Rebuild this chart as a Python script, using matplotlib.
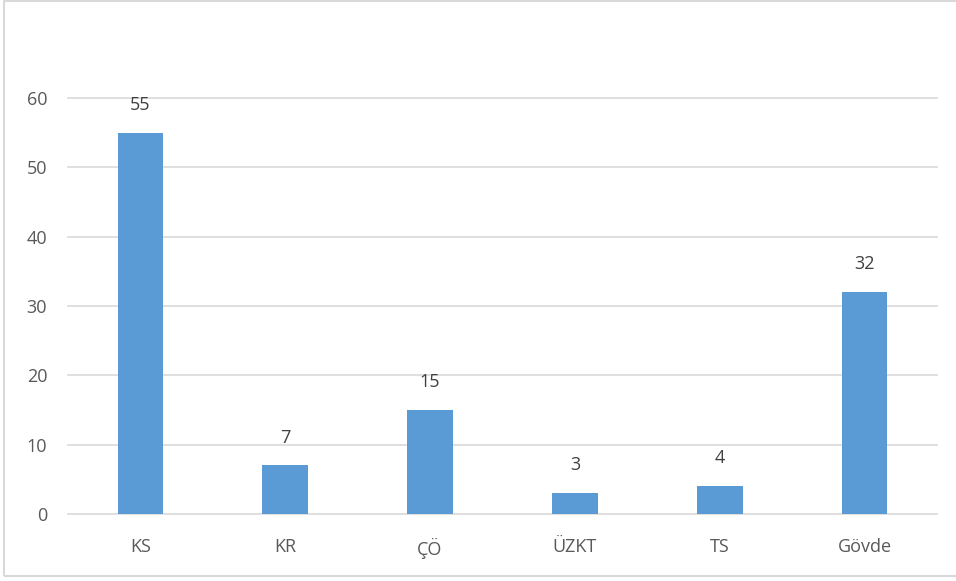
import matplotlib
matplotlib.use("Agg")
import matplotlib.pyplot as plt
from matplotlib.patches import Rectangle

plt.rcParams["font.family"] = ["Open Sans", "DejaVu Sans"]

categories = ["KS", "KR", "ÇÖ", "ÜZKT", "TS", "Gövde"]
values = [55, 7, 15, 3, 4, 32]
yticks = [0, 10, 20, 30, 40, 50, 60]

fig = plt.figure(figsize=(9.56, 5.81), dpi=100)
fig.patch.set_facecolor("white")
ax = fig.add_axes([0.0711, 0.1153, 0.909, 0.7160])

x = list(range(len(categories)))
ax.bar(x, values, width=0.315, color="#5B9BD5", zorder=3)
ax.set_xlim(-0.5, len(categories) - 0.5)
ax.set_ylim(0, 60)
ax.set_yticks(yticks)
ax.set_xticks(x)
ax.set_xticklabels(categories)
ax.grid(axis="y", color="#D9D9D9", linewidth=1.2, zorder=0)
for gl in ax.get_ygridlines():
    gl.set_clip_on(False)
for s in ax.spines.values():
    s.set_visible(False)
ax.tick_params(axis="both", length=0, colors="#595959", labelsize=13)
ax.tick_params(axis="y", pad=15)
ax.tick_params(axis="x", pad=17)

for xi, v in zip(x, values):
    ax.annotate(str(v), (xi, v), xytext=(0, 20), textcoords="offset points",
                ha="center", va="center", fontsize=13, color="#404040",
                annotation_clip=False)

fig.add_artist(Rectangle((0.0042, 0.0086), 1.2, 0.99, transform=fig.transFigure,
                         fill=False, edgecolor="#D9D9D9", linewidth=1.5))

fig.savefig("out.png", dpi=100)
